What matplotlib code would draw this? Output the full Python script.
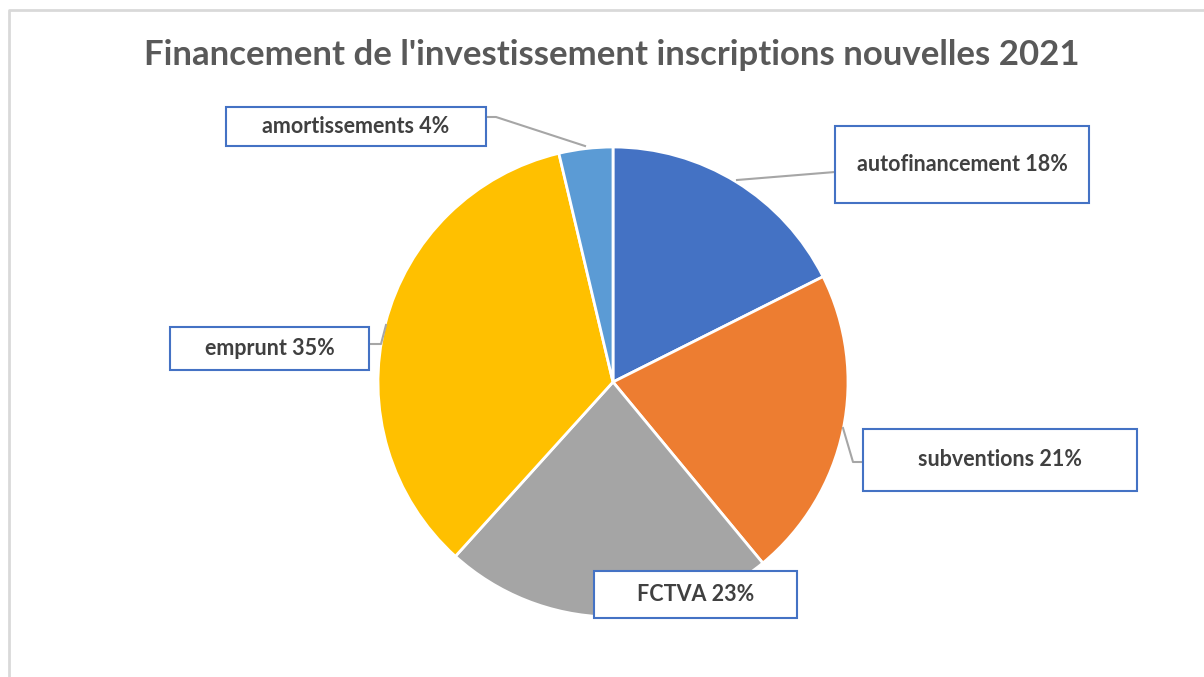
import matplotlib
matplotlib.use("Agg")
import matplotlib.pyplot as plt
from matplotlib.patches import Rectangle

# Data
categories = ["autofinancement", "subventions", "FCTVA", "emprunt", "amortissements"]
values = [17.6, 21.4, 22.7, 34.6, 3.7]
colors = ["#4472C4", "#ED7D31", "#A5A5A5", "#FFC000", "#5B9BD5"]
title = "Financement de l'investissement inscriptions nouvelles 2021"

W, H = 1204, 677
fig = plt.figure(figsize=(W / 100, H / 100), dpi=100)
ax = fig.add_axes([0, 0, 1, 1])
ax.set_xlim(0, W)
ax.set_ylim(0, H)
ax.set_aspect("equal")
ax.axis("off")

def Y(y):
    return H - y

# chart frame (light gray)
ax.plot([9, 9, W + 5], [Y(H + 5), Y(10), Y(10)], color="#D9D9D9", lw=2, solid_capstyle="butt")

FONT = "Lato"
ax.text(612, Y(55), title, ha="center", va="center", fontsize=25,
        fontweight="bold", color="#595959", family=FONT)

cx, cy, r = 613, 382, 235
ax.pie(values, colors=colors, startangle=90, counterclock=False,
       center=(cx, Y(cy)), radius=r, frame=True,
       wedgeprops=dict(edgecolor="white", linewidth=2))
ax.set_xlim(0, W)
ax.set_ylim(0, H)
ax.axis("off")

total = sum(values)
labels = [f"{c} {round(v / total * 100)}%" for c, v in zip(categories, values)]

# label boxes: (x0, y0, x1, y1) in pixel coords
boxes = [
    (835, 126, 1089, 203),
    (863, 429, 1137, 491),
    (594, 571, 797, 618),
    (170, 327, 369, 370),
    (226, 107, 486, 146),
]
# leader lines (pixel coords)
leaders = [
    [(737, 180), (835, 172)],
    [(843, 428), (853, 462), (863, 462)],
    None,
    [(386, 325), (381, 344), (369, 344)],
    [(585, 146), (496, 117), (486, 117)],
]
for lab, (x0, y0, x1, y1), ld in zip(labels, boxes, leaders):
    if ld:
        ax.plot([p[0] for p in ld], [Y(p[1]) for p in ld], color="#A6A6A6", lw=1.5, zorder=3)
    ax.add_patch(Rectangle((x0, Y(y1)), x1 - x0, y1 - y0, facecolor="white",
                           edgecolor="#4472C4", lw=1.5, zorder=4))
    ax.text((x0 + x1) / 2, Y((y0 + y1) / 2), lab, ha="center", va="center",
            fontsize=15.5, fontweight="bold", color="#404040", family=FONT, zorder=5)

fig.savefig("out.png", dpi=100)
